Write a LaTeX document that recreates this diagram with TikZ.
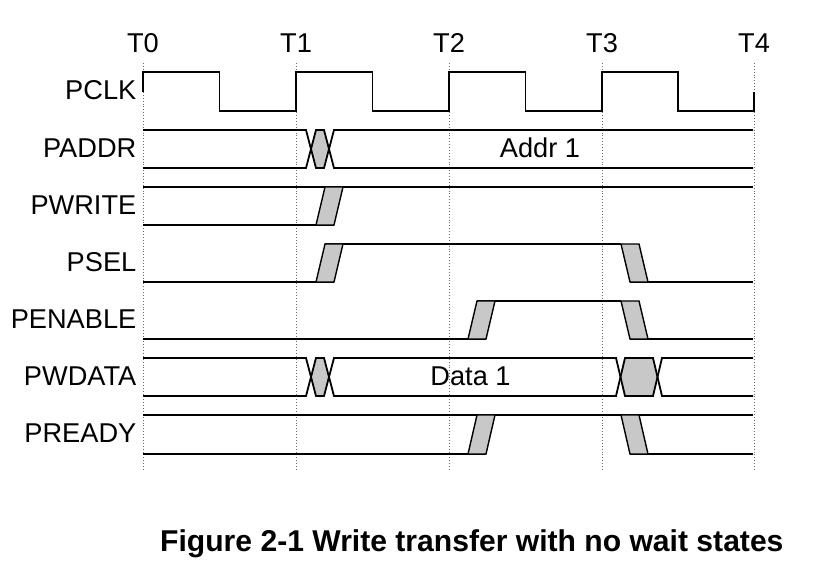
\documentclass[tikz,border=0pt]{standalone}
\usepackage{fontspec}
\setmainfont{Liberation Sans}
\begin{document}
\begin{tikzpicture}[x=1pt,y=-1pt,
  sig/.style={line width=1.8pt,line join=miter},
  trans/.style={line width=1.4pt,fill=transgray,line join=miter},
  tick/.style={gray!85!black,line width=0.9pt,dotted},
  lbl/.style={anchor=base east,inner sep=0pt,font=\fontsize{27.2}{32}\selectfont},
  tlbl/.style={anchor=base,inner sep=0pt,font=\fontsize{27.2}{32}\selectfont},
  vlbl/.style={anchor=base,inner sep=0pt,font=\fontsize{27.2}{32}\selectfont}]
\definecolor{transgray}{RGB}{200,200,200}
\useasboundingbox (0,0) rectangle (828,569);
\def\TA{143}\def\TB{296}\def\TC{449}\def\TD{602}\def\TE{754}
% time labels and dotted lines
\foreach \t/\n in {143/T0,296/T1,449/T2,602/T3,754/T4}{
  \node[tlbl] (lab\n) at (\t,52.5) {\n};
  \coordinate (top\n) at (\t,63);
  \coordinate (bot\n) at (\t,471);
  \draw[tick] (top\n) -- (bot\n);
}
% signal labels
\node[lbl] (lPCLK) at (136.5,100) {PCLK};
\node[lbl] (lPADDR) at (136.5,157.5) {PADDR};
\node[lbl] (lPWRITE) at (136.5,214.5) {PWRITE};
\node[lbl] (lPSEL) at (136.5,271.5) {PSEL};
\node[lbl] (lPENABLE) at (136.5,328.5) {PENABLE};
\node[lbl] (lPWDATA) at (136.5,385.7) {PWDATA};
\node[lbl] (lPREADY) at (136.5,442.7) {PREADY};
% PCLK
\draw[sig] (143,92) -- (143,72) -- (219.5,72) -- (219.5,111) -- (296,111) -- (296,72)
  -- (372.5,72) -- (372.5,111) -- (449,111) -- (449,72) -- (525.5,72) -- (525.5,111)
  -- (602,111) -- (602,72) -- (678,72) -- (678,111) -- (754,111) -- (754,92);
% PADDR
\fill[transgray] ({\TB+15},149) -- ({\TB+20},130) -- ({\TB+28},130) -- ({\TB+33},149) -- ({\TB+28},168) -- ({\TB+20},168) -- cycle;
\draw[sig] (143,130) -- ({\TB+10},130) -- ({\TB+20},168) -- ({\TB+28},168) -- ({\TB+38},130) -- (753,130);
\draw[sig] (143,168) -- ({\TB+10},168) -- ({\TB+20},130) -- ({\TB+28},130) -- ({\TB+38},168) -- (753,168);
\node[vlbl] (vaddr) at (540,158) {Addr 1};
% PWRITE
\draw[sig] (143,187) -- (753,187);
\draw[sig] (143,225) -- ({\TB+38},225);
\draw[trans] ({\TB+20},225) -- ({\TB+29},187) -- ({\TB+47},187) -- ({\TB+38},225) -- cycle;
% PSEL
\draw[sig] (143,282) -- ({\TB+38},282);
\draw[sig] ({\TB+29},244) -- ({\TD+19},244);
\draw[sig] ({\TD+28},282) -- (753,282);
\draw[trans] ({\TB+20},282) -- ({\TB+29},244) -- ({\TB+47},244) -- ({\TB+38},282) -- cycle;
\draw[trans] ({\TD+19},244) -- ({\TD+37},244) -- ({\TD+46},282) -- ({\TD+28},282) -- cycle;
% PENABLE
\draw[sig] (143,339) -- ({\TC+37},339);
\draw[sig] ({\TC+28},301) -- ({\TD+19},301);
\draw[sig] ({\TD+28},339) -- (753,339);
\draw[trans] ({\TC+19},339) -- ({\TC+28},301) -- ({\TC+46},301) -- ({\TC+37},339) -- cycle;
\draw[trans] ({\TD+19},301) -- ({\TD+37},301) -- ({\TD+46},339) -- ({\TD+28},339) -- cycle;
% PWDATA
\fill[transgray] ({\TB+15},377) -- ({\TB+20},358) -- ({\TB+28},358) -- ({\TB+33},377) -- ({\TB+28},396) -- ({\TB+20},396) -- cycle;
\fill[transgray] ({\TD+18.5},377) -- ({\TD+23},358) -- ({\TD+51},358) -- ({\TD+55.5},377) -- ({\TD+51},396) -- ({\TD+23},396) -- cycle;
\draw[sig] (143,358) -- ({\TB+10},358) -- ({\TB+20},396) -- ({\TB+28},396) -- ({\TB+38},358)
  -- ({\TD+14},358) -- ({\TD+23},396) -- ({\TD+51},396) -- ({\TD+60},358) -- (753,358);
\draw[sig] (143,396) -- ({\TB+10},396) -- ({\TB+20},358) -- ({\TB+28},358) -- ({\TB+38},396)
  -- ({\TD+14},396) -- ({\TD+23},358) -- ({\TD+51},358) -- ({\TD+60},396) -- (753,396);
\node[vlbl] (vdata) at (470.5,386) {Data 1};
% PREADY
\draw[sig] (143,415) -- (753,415);
\draw[sig] (143,454) -- ({\TC+37},454);
\draw[sig] ({\TD+28},454) -- (753,454);
\draw[trans] ({\TC+19},454) -- ({\TC+28},415) -- ({\TC+46},415) -- ({\TC+37},454) -- cycle;
\draw[trans] ({\TD+19},415) -- ({\TD+37},415) -- ({\TD+46},454) -- ({\TD+28},454) -- cycle;
% caption
\node[anchor=base west,inner sep=0pt,font=\fontsize{30.1}{35}\selectfont\bfseries] (cap) at (160,551) {Figure 2-1 Write transfer with no wait states};
\end{tikzpicture}
\end{document}
